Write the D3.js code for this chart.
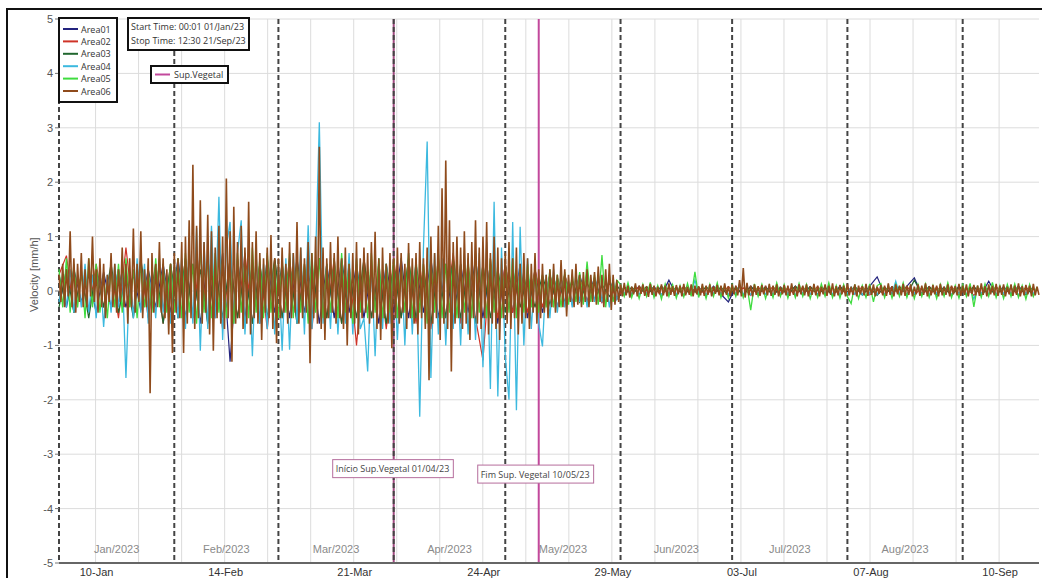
<!DOCTYPE html>
<html>
<head>
<meta charset="utf-8">
<script src="https://cdn.jsdelivr.net/npm/d3@7"></script>
<style>
  body { margin: 0; background: #fff; }
  svg { display: block; }
</style>
</head>
<body>
<svg id="chart" width="1042" height="578"></svg>
<script>
  var width = 1042, height = 578

  // series (values in mm/h, one value every stepHours from the start time)
  var seriesNames = ["Area01", "Area02", "Area03", "Area04", "Area05", "Area06"]
  var seriesColors = ["#23237e", "#cf3328", "#21672f", "#3cb9df", "#3fdc3f", "#8f4b1c"]
  var seriesStepHours = [48, 48, 48, 24, 24, 12]
  var seriesWidths = [1.2, 1.2, 1.2, 1.3, 1.3, 1.6]

  var area01 = [.3,-.3,.4,-.2,.3,-.4,.35,-.3,.4,-.3, .3,-.35,.4,-.3,.5,-.4,.6,-.5,.5,-.6,
    .6,-.5,.7,-1.3,.6,-.5,.5,-.6,.6,-.4, .5,-.5,.6,-.4,.5,-.6,.5,-.5,.6,-.4,
    .5,-.5,.4,-.6,.5,-.4,.6,-.5,.5,-.4, .6,-.5,.5,-.6,.5,-.4,.6,-.5,.5,-.6,
    .5,-.4,.5,-.5,.4,-.4,.3,-.3,.3,-.25, .3,-.2,.25,-.2,.2,-.15,
    .08,-.07,.09,-.06,.08,-.08,.2,-.07,.08,-.06, .07,-.08,.09,-.06,-.2,.08,-.07,.09,-.06,.08,
    -.08,.07,-.06,.09,-.07,.08,-.06,.07,-.08,.09, -.06,.08,-.07,.09,.26,-.07,.08,-.06,.09,.24,
    -.07,.08,-.06,.07,-.08,.09,-.06,.08,-.07,.18, -.06,.08,-.07,.09,-.06,.07]

  var area02 = [.3,.65,-.4,.3,-.4,.5,-.3,.4,-.5,.8, -.4,.5,-.5,.4,-.6,.5,-.5,.6,-.5,.7,
    -.6,.5,-.7,.6,-.5,.7,-.6,.5,-.7,.6, -.5,.6,-.6,.5,-.7,.6,-.5,.6,-.6,.5,
    -1.0,.6,-.5,.5,-.7,.6,-.5,.6,-.6,.5, -.7,.6,-.5,.7,-.6,.5,-.5,-1.27,.6,-.5,
    .5,-.4,.4,-.4,.4,-.3,.3,-.3,.3,-.2, .25,-.2,.2,-.2,.15,-.15,
    .07,-.06,.08,-.07,.06,-.08,.07,-.06,.08,-.07, .06,-.08,.07,-.06,.08,-.07,.06,-.08,.07,-.06,
    .08,-.07,.06,-.08,.07,-.06,.08,-.07,.06,-.08, .07,-.06,.08,-.07,.06,-.08,.07,-.06,.08,-.07,
    .06,-.08,.07,-.06,.08,-.07,.06,-.08,.07,-.06, .08,-.07,.06,-.08,.07,-.06]

  var area03 = [-.3,.4,-.4,.3,-.5,.4,-.3,.5,-.4,.3, -.5,.6,-.4,.5,-.6,.5,-.5,.6,-.5,.4,
    -.6,.5,-.5,.6,-.5,.4,-.6,.5,-.5,.6, -.5,.5,-.6,.4,-.5,.6,-.5,.5,-.6,.4,
    -.5,.6,-.5,.4,-.6,.5,-.5,.6,-.5,.4, -.6,.5,-.5,.6,-.5,.4,-.6,.5,-.5,.4,
    -.4,.4,-.3,.3,-.3,.3,-.25,.25,-.2,.2, -.2,.15,-.15,.12,-.1,.1,
    -.08,.07,-.06,.08,-.07,.09,-.06,.07,-.08,.06, -.07,.08,-.06,.07,-.09,.06,-.07,.08,-.06,.07,
    -.08,.06,-.07,.09,-.06,.08,-.07,.06,-.08,.07, -.06,.08,-.07,.06,-.08,.07,-.06,.08,-.07,.2,
    -.06,.08,-.07,.06,-.08,.07,-.06,.08,-.07,.06, -.08,.07,-.06,.08,-.07,.06]

  var area04 = [-.2,.3,-.3,.4,-.4,.3,-.3,.5,-.4,.3, -.5,.4,-.66,.3,-.4,.5,-.3,.4,-1.6,.3,
    -.5,.6,-.4,.5,-.6,.4,-.5,.6,-.4,.3,
    -.6,.5,-.5,.6,-.7,.8,-.6,1.16,-1.1,.9, -.7,1.2,-.5,1.73,-.9,.8,1.27,-.6,.7,1.3,
    -.8,.6,-1.2,.7,-.6,.5,-.7,.6,-.8,
    .5,-1.1,.6,-1.08,.7,-.6,.8,-.8,1.21,-.7, .6,3.1,-.6,.5,-.7,.6,-.8,.5,-.6,.7,
    -.8,.6,-.7,-.5,-1.48,.5,-1.2,.6,-.7,.5,-.6,
    .5,-.9,.6,-1.0,.7,-.8,.6,-2.31,.8,2.75, -1.6,.7,-.8,.6,-1.0,.5,-.7,.6,-1.0,.7,
    -.8,.5,-.9,.7,-1.4,.9,-1.8,1.64,-1.94,.8,
    -1.2,-2.0,1.27,-2.19,1.18,-1.0,.6,-.7,.4,-.6, -1.02,.3,-.5,.4,-.4,.3,-.3,.2,-.3,.3,
    -.2,.2,-.3,.2,-.2,.3,-.2,.2,-.3,.2,-.15,
    .06,-.05,.07,-.06,.05,-.07,.06,-.05,.08,-.06, .05,-.07,.06,-.05,.07,-.06,.05,-.08,.06,-.05,
    .2,-.06,.05,-.07,.06,-.05,.07,-.06,.05,-.07, .06,-.05,.08,-.06,.05,-.07,.06,-.05,.07,-.06,
    .05,-.07,.06,-.05,.07,-.06,.05,-.08,.06,-.05, .07,-.06,.05,-.07,.06,-.05,.08,-.06,.05,-.07,
    .06,-.05,.07,-.06,.05,-.07,.06,-.05,.07,-.06, .05,-.07,.06,-.05,.18,-.06,.05,-.08,.06,-.05,
    .07,-.06,.05,-.07,.06,-.05,.07,-.06,.05,-.07, .06,-.05,.08,-.06,.05,-.15,.06,-.05,.07,-.06,
    .05,-.07,.06,-.05,.07,-.06,.05,-.08,.06,-.05, .06,-.05,.04]

  var area05 = [.4,-.3,.6,-.4,.5,-.3,.4,-.5,.6,-.3, .5,-.4,.3,-.5,.4,-.3,.5,-.4,.6,-.3,
    .4,-.5,.5,-.3,.4,-.4,.6,-.3,.5,-.4,
    .5,-.4,.6,-.5,.7,-.4,.5,-.6,.8,-.4, .6,-.5,.7,-.4,.6,-.5,.5,-.6,.7,-.4,
    .6,-.5,.8,-.4,.6,-.5,.7,-.4,.5,
    -.5,.6,-.4,.7,-.5,.6,-.4,.5,-.6,.7, -.4,.6,-.5,.5,-.4,.6,-.5,.7,-.4,.5,
    -.6,.6,-.4,.5,-.5,.7,-.4,.6,-.5,.5,-.4,
    .6,-.5,.5,-.4,.7,-.5,.6,-.4,.5,-.6, .6,-.4,.7,-.5,.5,-.4,.6,-.5,.5,-.4,
    .6,-.5,.7,-.4,.5,-.5,.6,-.4,.5,-.5,
    .5,-.4,.6,-.5,.4,-.4,.5,-.3,.4,-.4, .3,-.3,.4,-.3,.3,-.3,.35,-.25,.3,-.2,
    .35,-.25,.54,-.2,.3,-.25,.66,-.3,.3,-.2,.2,
    .12,-.1,.15,-.12,.1,-.14,.12,-.1,.16,-.12, .1,-.15,.13,-.1,.12,-.13,.1,-.11,.14,-.1,
    .35,-.12,.1,-.14,.12,-.1,.15,-.12,.1,-.13, .12,-.1,.14,-.12,.1,-.35,.13,-.1,.12,-.14,
    .1,-.12,.15,-.1,.12,-.13,.1,-.12,.14,-.1, .12,-.14,.1,-.12,.13,-.1,.15,-.12,.1,-.13,
    .12,-.1,-.23,.12,-.14,.1,-.12,.13,-.2,.1, .14,-.12,.1,-.13,.12,-.1,.15,-.12,.1,-.14,
    .12,-.1,.13,-.12,.1,-.14,.12,-.1,.15,-.12, .1,-.13,.12,-.1,.14,-.29,.1,-.12,.13,-.1,
    .16,-.12,.1,-.14,.12,-.1,.13,-.12,.1,-.15, .12,-.1,.08]

  var area06 = [.3,-.2,.5,-.3,.4,-.1,1.1,-.3,.6,-.4,.5,-.2,.7,-.3,.4,-.3,.6,-.1,1.0,-.2,
    .4,-.4,.6,-.3,.5,-.5,.3,-.2,.7,-.3,.5,-.4,.4,-.2,.8,-.3,.5,-.6,.6,-.3,
    1.15,-.4,.5,-.2,1.1,-.5,.4,-.3,.6,-1.88,.7,-.4,.5,-.3,.9,-.4,.6,-.5,.4,-.8,
    .5,-1.14,.7,-.4,.6,-.5,.9,-1.14,1.0,-.6,1.3,-.5,2.32,-.7,1.2,-.5,1.67,-.6,.9,-.4,
    1.4,-.8,1.1,-1.1,.8,-.5,1.2,-.6,1.0,-.7,2.07,-.5,1.1,-1.3,1.55,-.6,.9,-.5,1.2,-.7,
    .8,-.6,1.64,-.8,.9,-.5,1.1,-.6,.7,-.9,.6,-.4,.8,-.5,1.03,-.7,.6,-.96,
    .6,-.5,.8,-.4,.5,-.6,.9,-.5,.7,-.4,1.27,-.6,.8,-.5,.6,-.4,.9,-1.33,.7,-.5,
    1.0,-.6,2.65,-.7,.8,-.9,.6,-.5,.9,-.4,.7,-.6,1.0,-.5,.6,-.7,.8,-1.0,.5,-.5,
    .7,-.6,.9,-.8,.6,-.5,.8,-.4,.7,-.6,.9,-.5,1.09,-.7,.6,-.9,.8,-.5,.5,-.6,.7,-1.05,
    .6,-.5,.8,-.6,.7,-.4,.5,-.7,.88,-.5,.6,-.6,.7,-.8,.9,-.5,.6,-.7,.8,-1.64,
    1.0,-.6,.7,-.5,1.2,-.9,1.89,-.6,2.4,-.7,1.3,-1.48,.9,-.6,1.0,-.5,.8,-.7,1.1,-.6,
    .7,-.9,.9,-.5,1.3,-.6,.8,-.7,1.0,-.5,1.27,-.8,.7,-.6,1.0,-.7,.8,-.9,.6,-.5,
    .7,-.6,.9,-.7,.6,-.5,.8,-.8,.5,-.6,.7,-.5,.6,-.7,.5,-.4,.7,-.6,.4,-.5,
    .5,-.4,.3,-.5,.4,-.3,.5,-.4,.3,-.3,.57,-.3,.4,-.47,.3,-.2,.4,-.3,.5,-.25,
    .3,-.3,.35,-.2,.4,-.3,.3,-.2,.35,-.25,.45,-.2,.3,-.3,.4,-.2,.5,-.35,.3,-.25,.2,-.2,
    .12,-.1,.15,-.08,.1,-.12,.08,-.06,.14,-.1,.1,-.05,.12,-.09,.09,-.11,.13,-.07,.1,-.1,
    .08,-.06,.12,-.08,.1,-.1,.14,-.07,.09,-.09,.11,-.06,.1,-.1,.13,-.08,.08,-.07,.12,-.1,
    .1,-.06,.09,-.08,.13,-.09,.1,-.07,.12,-.1,.08,-.05,.11,-.08,.1,-.09,.14,-.07,.09,-.1,
    .12,-.06,.1,-.08,.2,-.1,.42,-.12,.15,-.08,.1,-.1,.12,-.07,.09,-.09,.11,-.06,.1,-.08,
    .13,-.09,.1,-.07,.12,-.1,.08,-.06,.11,-.08,.1,-.09,.14,-.07,.09,-.1,.12,-.06,.1,-.08,
    .12,-.1,.09,-.07,.13,-.08,.1,-.1,.08,-.06,.12,-.09,.1,-.07,.14,-.1,.09,-.08,.11,-.06,
    .1,-.1,.13,-.08,.08,-.07,.12,-.1,.1,-.06,.09,-.08,.13,-.09,.1,-.07,.12,-.1,.08,-.05,
    .11,-.08,.1,-.09,.14,-.07,.09,-.1,.12,-.06,.1,-.08,.13,-.09,.1,-.07,.12,-.1,.08,-.06,
    .12,-.09,.1,-.07,.14,-.1,.09,-.08,.11,-.06,.1,-.1,.13,-.08,.08,-.07,.12,-.1,.1,-.06,
    .09,-.08,.13,-.09,.1,-.07,.12,-.1,.08,-.05,.11,-.08,.1,-.09,.14,-.07,.09,-.1,.12,-.06,
    .1,-.08,.13,-.09,.1,-.07,.12,-.1,.08,-.06,.12,-.09,.1,-.07,.14,-.1,.09,-.08,.11,-.06,
    .1,-.1,.13,-.08,.08,-.07]

  var seriesValues = [area01, area02, area03, area04, area05, area06]

  var yTicks = [-5, -4, -3, -2, -1, 0, 1, 2, 3, 4, 5]
  var monthLabels = ["Jan/2023", "Feb/2023", "Mar/2023", "Apr/2023", "May/2023", "Jun/2023", "Jul/2023", "Aug/2023"]
  var tickLabels = ["10-Jan", "14-Feb", "21-Mar", "24-Apr", "29-May", "03-Jul", "07-Aug", "10-Sep"]
  var eventLabels = ["Início Sup.Vegetal 01/04/23", "Fim Sup. Vegetal 10/05/23"]
  var eventDates = [new Date(2023, 3, 1), new Date(2023, 4, 10)]

  var startTime = new Date(2023, 0, 1, 0, 1)
  var stopTime = new Date(2023, 8, 21, 12, 30)
  var firstTick = new Date(2023, 0, 10, 20, 0)
  var gridStepHours = 833 / 3

  var plotLeft = 59, plotRight = 1039, plotTop = 19, plotBottom = 563
  var x = d3.scaleTime().domain([startTime, stopTime]).range([plotLeft, plotRight])
  var y = d3.scaleLinear().domain([-5, 5]).range([plotBottom, plotTop])

  var svg = d3.select("#chart")
  var axisFont = "'Liberation Sans', Arial, sans-serif"
  var boxFont = "'Open Sans', 'Noto Sans', sans-serif"

  // outer frame
  svg.append("rect")
    .attr("x", 7).attr("y", 9).attr("width", 1060).attr("height", 600)
    .attr("fill", "none").attr("stroke", "#111").attr("stroke-width", 2)

  // grid
  var gridDates = []
  for (var t = firstTick.getTime(); t <= stopTime.getTime(); t += gridStepHours * 3600e3) gridDates.push(new Date(t))

  svg.append("g").selectAll("line").data(gridDates).enter().append("line")
    .attr("x1", function(d) { return x(d) }).attr("x2", function(d) { return x(d) })
    .attr("y1", plotTop).attr("y2", plotBottom)
    .attr("stroke", "#dcdcdc").attr("stroke-width", 1)

  svg.append("g").selectAll("line").data(yTicks.slice(1)).enter().append("line")
    .attr("x1", plotLeft).attr("x2", plotRight)
    .attr("y1", function(d) { return y(d) }).attr("y2", function(d) { return y(d) })
    .attr("stroke", "#dcdcdc").attr("stroke-width", 1)

  // month separators
  var monthDates = d3.timeMonths(new Date(2023, 0, 1), stopTime)
  svg.append("line")
    .attr("x1", x(eventDates[0])).attr("x2", x(eventDates[0])).attr("y1", plotTop).attr("y2", plotBottom)
    .attr("stroke", "#a04a80").attr("stroke-width", 2)
  svg.append("g").selectAll("line").data(monthDates).enter().append("line")
    .attr("x1", function(d) { return Math.max(x(d), plotLeft) }).attr("x2", function(d) { return Math.max(x(d), plotLeft) })
    .attr("y1", plotTop).attr("y2", plotBottom)
    .attr("stroke", "#444").attr("stroke-width", 2).attr("stroke-dasharray", "5,3")

  svg.append("g").selectAll("text").data(monthLabels).enter().append("text")
    .attr("x", function(d, i) { return (Math.max(x(monthDates[i]), plotLeft) + x(monthDates[i + 1])) / 2 })
    .attr("y", plotBottom - 10)
    .attr("text-anchor", "middle")
    .attr("font-family", axisFont).attr("font-size", 11).attr("fill", "#8a8a8a")
    .text(function(d) { return d })

  // end of vegetation suppression
  svg.append("line")
    .attr("x1", x(eventDates[1])).attr("x2", x(eventDates[1])).attr("y1", plotTop).attr("y2", plotBottom)
    .attr("stroke", "#c2499c").attr("stroke-width", 2)

  // series
  var line = d3.line()
    .x(function(d) { return x(d.t) })
    .y(function(d) { return y(d.v) })

  seriesValues.forEach(function(vals, i) {
    var pts = vals.map(function(v, k) {
      return { t: new Date(startTime.getTime() + k * seriesStepHours[i] * 3600e3), v: v }
    })
    svg.append("path")
      .datum(pts)
      .attr("d", line)
      .attr("fill", "none")
      .attr("stroke", seriesColors[i])
      .attr("stroke-width", seriesWidths[i])
  })

  // axes
  svg.append("line")
    .attr("x1", plotLeft).attr("x2", plotRight).attr("y1", plotBottom).attr("y2", plotBottom)
    .attr("stroke", "#666").attr("stroke-width", 2)

  svg.append("g").selectAll("line").data(yTicks).enter().append("line")
    .attr("x1", plotLeft - 4).attr("x2", plotLeft)
    .attr("y1", function(d) { return y(d) }).attr("y2", function(d) { return y(d) })
    .attr("stroke", "#777")

  svg.append("g").selectAll("text").data(yTicks).enter().append("text")
    .attr("x", plotLeft - 6)
    .attr("y", function(d) { return y(d) + 4 })
    .attr("text-anchor", "end")
    .attr("font-family", axisFont).attr("font-size", 11).attr("fill", "#555")
    .text(function(d) { return d })

  svg.append("text")
    .attr("transform", "translate(38," + y(0.3) + ") rotate(-90)")
    .attr("text-anchor", "middle")
    .attr("font-family", axisFont).attr("font-size", 11).attr("fill", "#555")
    .text("Velocity [mm/h]")

  svg.append("g").selectAll("text").data(tickLabels).enter().append("text")
    .attr("x", function(d, i) { return x(gridDates[i * 3]) + 1 })
    .attr("y", plotBottom + 13)
    .attr("text-anchor", "middle")
    .attr("font-family", axisFont).attr("font-size", 11).attr("fill", "#333")
    .text(function(d) { return d })

  // event annotations
  var evBoxY = [y(-3.1), y(-3.2)]
  eventLabels.forEach(function(lbl, i) {
    var g = svg.append("g")
    var tx = g.append("text")
      .attr("x", x(eventDates[i]) - 58)
      .attr("y", evBoxY[i] + 12.5)
      .attr("font-family", boxFont).attr("font-size", 9).attr("fill", "#444")
      .text(lbl)
    var w = tx.node().getComputedTextLength()
    g.insert("rect", "text")
      .attr("x", x(eventDates[i]) - 61).attr("y", evBoxY[i])
      .attr("width", w + 7).attr("height", 18)
      .attr("fill", "#fff").attr("stroke", "#b56d9c").attr("stroke-width", 1)
  })

  // legend
  var legend = svg.append("g")
  legend.append("rect")
    .attr("x", 59).attr("y", 18).attr("width", 58).attr("height", 84)
    .attr("fill", "#fff").attr("stroke", "#111").attr("stroke-width", 2)
  seriesNames.forEach(function(name, i) {
    var ly = 29 + i * 12.4
    legend.append("line")
      .attr("x1", 63).attr("x2", 78).attr("y1", ly).attr("y2", ly)
      .attr("stroke", seriesColors[i]).attr("stroke-width", 2)
    legend.append("text")
      .attr("x", 81).attr("y", ly + 3.5)
      .attr("font-family", boxFont).attr("font-size", 9).attr("fill", "#333")
      .text(name)
  })

  // start / stop box
  var info = svg.append("g")
  info.append("rect")
    .attr("x", 128).attr("y", 18).attr("width", 121).attr("height", 32)
    .attr("fill", "#fff").attr("stroke", "#111").attr("stroke-width", 2)
  info.append("text").attr("x", 131).attr("y", 30)
    .attr("font-family", boxFont).attr("font-size", 9).attr("fill", "#333")
    .text("Start Time: 00:01 01/Jan/23")
  info.append("text").attr("x", 131).attr("y", 44)
    .attr("font-family", boxFont).attr("font-size", 9).attr("fill", "#333")
    .text("Stop Time: 12:30 21/Sep/23")

  // event legend
  var ev = svg.append("g")
  ev.append("rect")
    .attr("x", 151).attr("y", 66).attr("width", 77).attr("height", 17)
    .attr("fill", "#fff").attr("stroke", "#111").attr("stroke-width", 2)
  ev.append("line").attr("x1", 155).attr("x2", 170).attr("y1", 74.5).attr("y2", 74.5)
    .attr("stroke", "#c2499c").attr("stroke-width", 2)
  ev.append("text").attr("x", 174).attr("y", 78)
    .attr("font-family", boxFont).attr("font-size", 9).attr("fill", "#333")
    .text("Sup.Vegetal")
</script>
</body>
</html>
